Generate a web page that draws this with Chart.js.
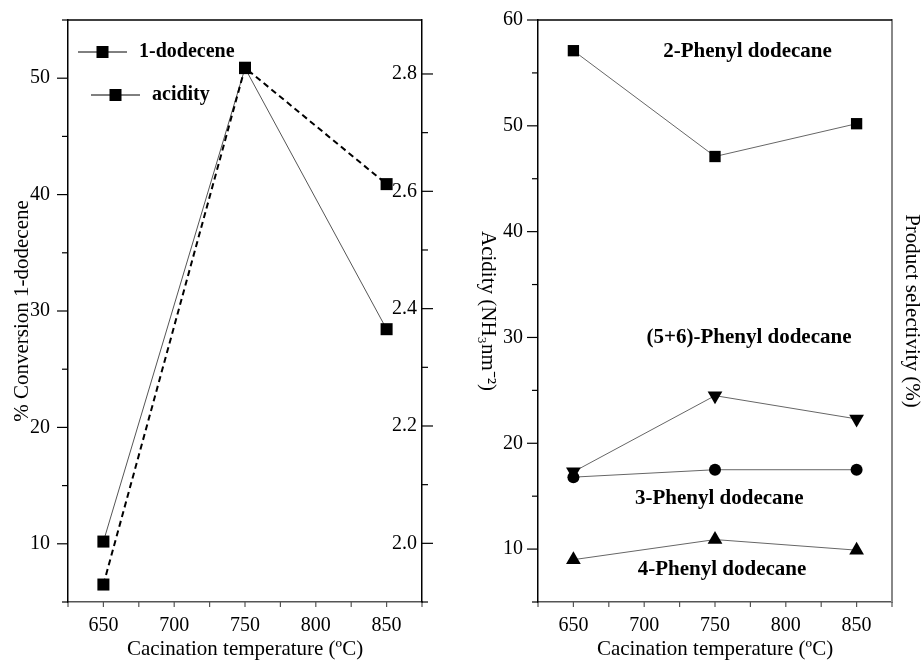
<!DOCTYPE html>
<html>
<head>
<meta charset="utf-8">
<script src="https://cdn.jsdelivr.net/npm/chart.js@4/dist/chart.umd.min.js"></script>
<style>
  body { margin: 0; background: #fff; }
  #wrap { position: relative; width: 924px; height: 662px; }
  canvas { position: absolute; top: 0; }
</style>
</head>
<body>
<div id="wrap">
  <canvas id="graficoConversion" width="500" height="662" style="left:0"></canvas>
  <canvas id="graficoSelectividad" width="464" height="662" style="left:460px"></canvas>
</div>
<script>
// --- Datos ---
const temperaturas = [650, 750, 850];
const conversionDodeceno = [6.5, 50.9, 40.9];
const acidez = [2.003, 2.81, 2.365];

const selectividad2Fenil = [57.1, 47.1, 50.2];
const selectividad56Fenil = [17.3, 24.5, 22.3];
const selectividad3Fenil = [16.8, 17.5, 17.5];
const selectividad4Fenil = [9.0, 10.9, 9.9];

// etiquetas visibles de los ejes
const etiquetasX = [650, 700, 750, 800, 850];
const etiquetasConversion = [10, 20, 30, 40, 50];
const etiquetasAcidez = ['2.0', '2.2', '2.4', '2.6', '2.8'];
const etiquetasSelectividad = [10, 20, 30, 40, 50, 60];

const nombresCurvas = ['2-Phenyl dodecane', '(5+6)-Phenyl dodecane', '3-Phenyl dodecane', '4-Phenyl dodecane'];

const FUENTE = "'Liberation Serif', 'Times New Roman', serif";

function puntos(valores) {
    return temperaturas.map((t, i) => ({ x: t, y: valores[i] }));
}

// Marcas de los ejes: largas en las etiquetas, cortas en el resto
const pluginMarcas = {
    id: 'marcas',
    afterDraw(chart) {
        const ctx = chart.ctx;
        const area = chart.chartArea;
        ctx.save();
        // linea superior del marco
        ctx.strokeStyle = '#000';
        ctx.lineWidth = 1.5;
        ctx.beginPath();
        ctx.moveTo(area.left, area.top);
        ctx.lineTo(area.right, area.top);
        ctx.stroke();

        Object.values(chart.scales).forEach(scale => {
            if (!scale.options.display || scale.options.ticks.display === false) return;
            const paso = scale.options.ticks.stepSize;
            ctx.strokeStyle = scale.axis === 'x' ? '#555' : '#000';
            ctx.lineWidth = 1.2;
            scale.ticks.forEach(tick => {
                const v = tick.value;
                if (Math.abs(v / paso - Math.round(v / paso)) > 1e-6) return;
                const p = scale.getPixelForValue(v);
                const largo = scale.axis === 'x' ? 5 : (tick.label !== '' ? 11 : 6);
                ctx.beginPath();
                if (scale.axis === 'x') {
                    ctx.moveTo(p, scale.top);
                    ctx.lineTo(p, scale.top + largo);
                } else if (scale.position === 'left') {
                    ctx.moveTo(scale.right, p);
                    ctx.lineTo(scale.right - largo, p);
                } else {
                    ctx.moveTo(scale.left, p);
                    ctx.lineTo(scale.left + largo, p);
                }
                ctx.stroke();
            });
        });
        ctx.restore();
    }
};

// Leyenda del panel izquierdo (linea - marcador - linea)
const pluginLeyenda = {
    id: 'leyendaPropia',
    afterDraw(chart, args, opts) {
        const ctx = chart.ctx;
        ctx.save();
        chart.data.datasets.forEach((ds, i) => {
            const it = opts.items[i];
            ctx.strokeStyle = '#000';
            ctx.lineWidth = 1;
            ctx.beginPath();
            ctx.moveTo(it.x, it.y);
            ctx.lineTo(it.x + 49, it.y);
            ctx.stroke();
            ctx.fillStyle = '#000';
            ctx.fillRect(it.x + 24.5 - 6, it.y - 6, 12, 12);
            ctx.font = 'bold 20px ' + FUENTE;
            ctx.textBaseline = 'middle';
            ctx.fillText(ds.label, it.x + 61, it.y);
        });
        ctx.restore();
    }
};

// Nombres de cada curva en el panel derecho
const pluginNombres = {
    id: 'nombresCurvas',
    afterDraw(chart, args, opts) {
        const ctx = chart.ctx;
        ctx.save();
        ctx.font = 'bold 21px ' + FUENTE;
        ctx.fillStyle = '#000';
        ctx.textAlign = 'center';
        ctx.textBaseline = 'middle';
        opts.posiciones.forEach((pos, i) => {
            ctx.fillText(nombresCurvas[i], chart.scales.x.getPixelForValue(pos.x), chart.scales.y.getPixelForValue(pos.y));
        });
        ctx.restore();
    }
};

function ejeX() {
    return {
        type: 'linear',
        position: 'bottom',
        min: 625,
        max: 875,
        ticks: {
            stepSize: 25,
            color: '#000',
            font: { family: FUENTE, size: 20 },
            padding: 7,
            maxRotation: 0,
            autoSkip: false,
            callback: v => etiquetasX.includes(v) ? String(v) : ''
        },
        grid: { drawOnChartArea: false, tickLength: 5, tickColor: 'transparent' },
        border: { color: '#555', width: 1.5 },
        title: {
            display: true,
            text: 'Cacination temperature (ºC)',
            color: '#000',
            font: { family: FUENTE, size: 21 },
            padding: 0
        },
        afterFit: s => { s.height = 60; }
    };
}

document.addEventListener("DOMContentLoaded", function() {

    // --- Panel 1: conversion de 1-dodeceno y acidez ---
    new Chart(document.getElementById('graficoConversion'), {
        type: 'line',
        data: {
            datasets: [{
                label: '1-dodecene',
                data: puntos(conversionDodeceno),
                yAxisID: 'y',
                borderColor: '#000',
                borderWidth: 2,
                borderDash: [6, 4],
                pointStyle: 'rect',
                pointRadius: 8.5,
                pointBackgroundColor: '#000',
                pointBorderWidth: 0
            }, {
                label: 'acidity',
                data: puntos(acidez),
                yAxisID: 'y1',
                borderColor: '#555',
                borderWidth: 1,
                pointStyle: 'rect',
                pointRadius: 8.5,
                pointBackgroundColor: '#000',
                pointBorderWidth: 0
            }]
        },
        options: {
            responsive: false,
            animation: false,
            devicePixelRatio: 1,
            layout: { padding: { top: 20, left: 0, right: 0, bottom: 0 } },
            scales: {
                x: ejeX(),
                y: {
                    position: 'left',
                    min: 5,
                    max: 55,
                    ticks: {
                        stepSize: 5,
                        color: '#000',
                        font: { family: FUENTE, size: 20 },
                        padding: 7,
                        callback: v => etiquetasConversion.includes(v) ? String(v) : ''
                    },
                    grid: { drawOnChartArea: false, tickLength: 11, tickColor: 'transparent' },
                    border: { color: '#000', width: 1.5 },
                    title: {
                        display: true,
                        text: '% Conversion 1-dodecene',
                        color: '#000',
                        font: { family: FUENTE, size: 21 },
                        padding: { top: 10, bottom: 0 }
                    },
                    afterFit: s => { s.width = 68; }
                },
                y1: {
                    position: 'right',
                    min: 1.9,
                    max: 2.892,
                    ticks: {
                        stepSize: 0.1,
                        mirror: true,
                        color: '#000',
                        font: { family: FUENTE, size: 20 },
                        padding: -5,
                        callback: v => etiquetasAcidez.includes(v.toFixed(1)) && Math.abs(v * 10 - Math.round(v * 10)) < 1e-6 ? v.toFixed(1) : ''
                    },
                    grid: { drawOnChartArea: false, tickLength: 11, tickColor: 'transparent' },
                    border: { color: '#000', width: 1.5 },
                    title: {
                        display: true,
                        text: 'Acidity (NH₃nm⁻²)',
                        color: '#000',
                        font: { family: FUENTE, size: 21 },
                        padding: 0
                    },
                    afterFit: s => { s.width = 78; }
                }
            },
            plugins: {
                legend: { display: false },
                tooltip: { enabled: false },
                leyendaPropia: {
                    items: [{ x: 78, y: 52 }, { x: 91, y: 95 }]
                }
            }
        },
        plugins: [pluginMarcas, pluginLeyenda]
    });

    // --- Panel 2: selectividad de productos ---
    const estiloSerie = (valores, forma, radio, rotacion) => ({
        data: puntos(valores),
        yAxisID: 'y',
        borderColor: '#666',
        borderWidth: 1,
        pointStyle: forma,
        pointRadius: radio,
        pointRotation: rotacion,
        pointBackgroundColor: '#000',
        pointBorderWidth: 0
    });

    new Chart(document.getElementById('graficoSelectividad'), {
        type: 'line',
        data: {
            datasets: [
                Object.assign({ label: nombresCurvas[0] }, estiloSerie(selectividad2Fenil, 'rect', 8, 0)),
                Object.assign({ label: nombresCurvas[1] }, estiloSerie(selectividad56Fenil, 'triangle', 8.5, 180)),
                Object.assign({ label: nombresCurvas[2] }, estiloSerie(selectividad3Fenil, 'circle', 6, 0)),
                Object.assign({ label: nombresCurvas[3] }, estiloSerie(selectividad4Fenil, 'triangle', 8.5, 0))
            ]
        },
        options: {
            responsive: false,
            animation: false,
            devicePixelRatio: 1,
            layout: { padding: { top: 20, left: 0, right: 0, bottom: 0 } },
            scales: {
                x: ejeX(),
                y: {
                    position: 'left',
                    min: 5,
                    max: 60,
                    ticks: {
                        stepSize: 5,
                        color: '#000',
                        font: { family: FUENTE, size: 20 },
                        padding: 4,
                        callback: v => etiquetasSelectividad.includes(v) ? String(v) : ''
                    },
                    grid: { drawOnChartArea: false, tickLength: 11, tickColor: 'transparent' },
                    border: { color: '#000', width: 1.5 },
                    afterFit: s => { s.width = 78; }
                },
                y2: {
                    position: 'right',
                    min: 5,
                    max: 60,
                    ticks: { display: false },
                    grid: { drawOnChartArea: false, drawTicks: false },
                    border: { color: '#888', width: 2 },
                    title: {
                        display: true,
                        text: 'Product selectivity (%)',
                        color: '#000',
                        font: { family: FUENTE, size: 21 },
                        padding: 0
                    },
                    afterFit: s => { s.width = 32; }
                }
            },
            plugins: {
                legend: { display: false },
                tooltip: { enabled: false },
                nombresCurvas: {
                    posiciones: [
                        { x: 773, y: 57.0 },
                        { x: 774, y: 30.0 },
                        { x: 753, y: 14.8 },
                        { x: 755, y: 8.1 }
                    ]
                }
            }
        },
        plugins: [pluginMarcas, pluginNombres]
    });

});
</script>
</body>
</html>
